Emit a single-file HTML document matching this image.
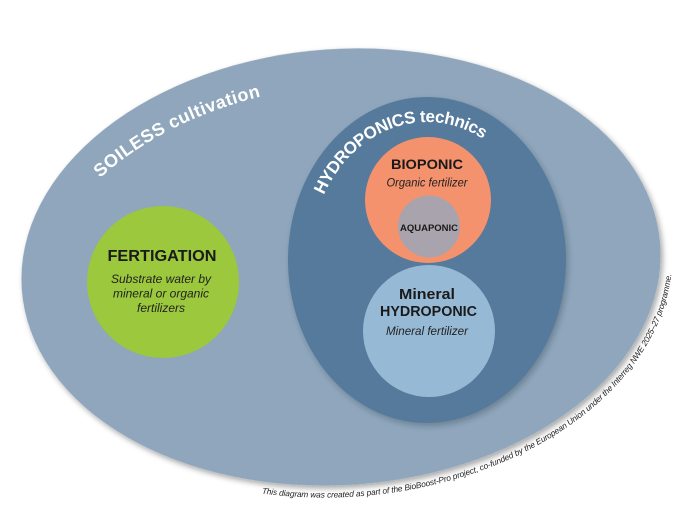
<!DOCTYPE html>
<html>
<head>
<meta charset="utf-8">
<style>
  html,body{margin:0;padding:0;background:#ffffff;}
  svg{display:block;}
  text{font-family:"Liberation Sans", Arial, sans-serif;}
</style>
</head>
<body>
<svg width="690" height="531" viewBox="0 0 690 531" xmlns="http://www.w3.org/2000/svg">
  <defs>
    <filter id="sh" x="-10%" y="-10%" width="125%" height="125%">
      <feDropShadow dx="2" dy="3" stdDeviation="3" flood-color="#000" flood-opacity="0.35"/>
    </filter>
    <filter id="sh2" x="-10%" y="-10%" width="125%" height="125%">
      <feDropShadow dx="2" dy="3" stdDeviation="3" flood-color="#1a2a3a" flood-opacity="0.3"/>
    </filter>
    <path id="soilPath" d="M100 178 C144.6 137.9 200.8 111.5 259 97 L300 88"/>
    <path id="hydroPath" d="M323.8 195 A117 138 0 0 1 509.7 162.4"/>
    <path id="footPath" d="M-94.8 220.4 A332 230 0 0 0 332 0"/>
  </defs>

  <!-- Outer ellipse: SOILESS cultivation -->
  <ellipse cx="341" cy="267" rx="320" ry="218" transform="rotate(-4 341 267)" fill="#8fa6bc" filter="url(#sh)"/>

  <!-- Footer curved text -->
  <g transform="translate(341 267) rotate(-4)">
    <text font-size="8.3" font-style="italic" fill="#222">
      <textPath href="#footPath" textLength="510" lengthAdjust="spacing">This diagram was created as part of the BioBoost-Pro project, co-funded by the European Union under the Interreg NWE 2025–27 programme.</textPath>
    </text>
  </g>

  <!-- SOILESS label -->
  <text font-size="18" font-weight="bold" fill="#ffffff">
    <textPath href="#soilPath" textLength="182" lengthAdjust="spacing">SOILESS cultivation</textPath>
  </text>

  <!-- Fertigation circle -->
  <circle cx="163" cy="282" r="76" fill="#9bc83c"/>
  <text x="162" y="261" font-size="16" font-weight="bold" fill="#1a1a1a" text-anchor="middle" textLength="109" lengthAdjust="spacingAndGlyphs">FERTIGATION</text>
  <text x="161" y="283" font-size="12" font-style="italic" fill="#222" text-anchor="middle">Substrate water by</text>
  <text x="161" y="297.5" font-size="12" font-style="italic" fill="#222" text-anchor="middle">mineral or organic</text>
  <text x="161" y="312" font-size="12" font-style="italic" fill="#222" text-anchor="middle">fertilizers</text>

  <!-- Hydroponics ellipse -->
  <ellipse cx="427" cy="260" rx="139" ry="163" fill="#557a9b" filter="url(#sh2)"/>
  <text font-size="17" font-weight="bold" fill="#ffffff">
    <textPath href="#hydroPath" textLength="193" lengthAdjust="spacing">HYDROPONICS technics</textPath>
  </text>

  <!-- Bioponic -->
  <circle cx="428" cy="200" r="63" fill="#f4926e"/>
  <text x="427" y="169" font-size="14" font-weight="bold" fill="#1a1a1a" text-anchor="middle" textLength="72" lengthAdjust="spacingAndGlyphs">BIOPONIC</text>
  <text x="427" y="186.5" font-size="11.5" font-style="italic" fill="#222" text-anchor="middle" textLength="81" lengthAdjust="spacingAndGlyphs">Organic fertilizer</text>

  <!-- Aquaponic -->
  <circle cx="429" cy="226.5" r="31" fill="#a9a3ad"/>
  <text x="429" y="231" font-size="9.5" font-weight="bold" fill="#1a1a1a" text-anchor="middle" textLength="58" lengthAdjust="spacingAndGlyphs">AQUAPONIC</text>

  <!-- Mineral hydroponic -->
  <circle cx="429" cy="331" r="66" fill="#96bad6"/>
  <text x="427" y="299" font-size="14.5" font-weight="bold" fill="#1a1a1a" text-anchor="middle" textLength="56" lengthAdjust="spacingAndGlyphs">Mineral</text>
  <text x="428.5" y="316" font-size="14.5" font-weight="bold" fill="#1a1a1a" text-anchor="middle" textLength="97" lengthAdjust="spacingAndGlyphs">HYDROPONIC</text>
  <text x="427" y="335" font-size="11.5" font-style="italic" fill="#222" text-anchor="middle" textLength="82" lengthAdjust="spacingAndGlyphs">Mineral fertilizer</text>
</svg>
</body>
</html>
